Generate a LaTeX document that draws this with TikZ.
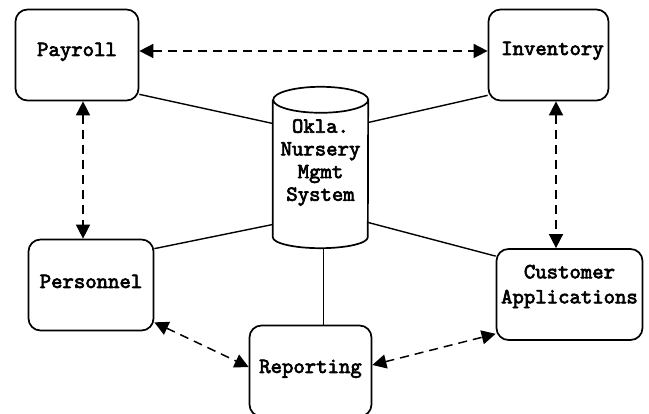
\documentclass[tikz,border=0pt]{standalone}
\usepackage{fontspec}
\newfontfamily\boxfont{lmmono10-regular.otf}[FakeBold=3]
\usetikzlibrary{arrows.meta, calc}

\begin{document}
\begin{tikzpicture}[x=1pt, y=1pt,
    module/.style={draw=black, line width=1.7pt, rounded corners=12pt, minimum height=91pt},
    lbl/.style={font=\boxfont\fontsize{21.7}{25}\selectfont, align=center, inner sep=0pt},
    link/.style={line width=1.4pt},
    flow/.style={line width=1.5pt, dash pattern=on 9pt off 6pt,
        {Triangle[length=14pt, width=14pt]}-{Triangle[length=14pt, width=14pt]}}]
        \useasboundingbox (0, 0) rectangle (649, 414);

        % Modules
        \node[module, minimum width=123pt] (pay) at (77, 359) {};
        \node[module, minimum width=120pt] (inv) at (548.5, 359) {};
        \node[module, minimum width=125pt] (pers) at (91, 129) {};
        \node[module, minimum width=122pt] (rep) at (310.5, 43) {};
        \node[module, minimum width=146pt] (cust) at (569.5, 119.5) {};

        % Module names
        \node[lbl, anchor=base] (paytext) at ([yshift=-1]pay.center) {Payroll};
        \node[lbl, anchor=base] (invtext) at ([xshift=4]inv.center) {Inventory};
        \node[lbl, anchor=base] (perstext) at ([yshift=-3]pers.center) {Personnel};
        \node[lbl, anchor=base] (reptext) at ([yshift=-2]rep.center) {Reporting};
        \node[lbl] (custtext) at ([yshift=8]cust.center) {Customer\\Applications};

        % Central database
        \node[minimum width=95pt, minimum height=161pt, inner sep=0pt] (db) at (320.5, 246.5) {};
        \draw[line width=1.7pt] ([yshift=-13]db.north west) -- ([yshift=11]db.south west)
            arc[start angle=180, end angle=360, x radius=47.5, y radius=11]
            -- ([yshift=-13]db.north east)
            arc[start angle=0, end angle=360, x radius=47.5, y radius=13];
        \node[lbl, font=\boxfont\fontsize{21.7}{22.7}\selectfont] (dbtext) at ([yshift=5]db.center)
            {Okla.\\Nursery\\Mgmt\\System};

        % Data links to the database
        \draw[link] ([yshift=7]pay.south east) -- ([yshift=44]db.west);
        \draw[link] ([yshift=6]inv.south west) -- ([yshift=45]db.east);
        \draw[link] ([yshift=-10]pers.north east) -- ([yshift=-57]db.west);
        \draw[link] ([yshift=-8]cust.north west) -- ([yshift=-55]db.east);
        \draw[link] ([xshift=3]db.south) -- ([xshift=3]db.south |- rep.north);

        % Exchanges between modules
        \draw[flow] ([yshift=4]pay.east) -- ([yshift=4]inv.west);
        \draw[flow] ([xshift=6]pay.south) -- ([xshift=6]pay.south |- pers.north);
        \draw[flow] ([xshift=7.5]inv.south) -- ([xshift=7.5]inv.south |- cust.north);
        \draw[flow] ([yshift=9]pers.south east) -- ([yshift=4]rep.west);
        \draw[flow] ([yshift=6]rep.east) -- ([yshift=7]cust.south west);
\end{tikzpicture}
\end{document}
